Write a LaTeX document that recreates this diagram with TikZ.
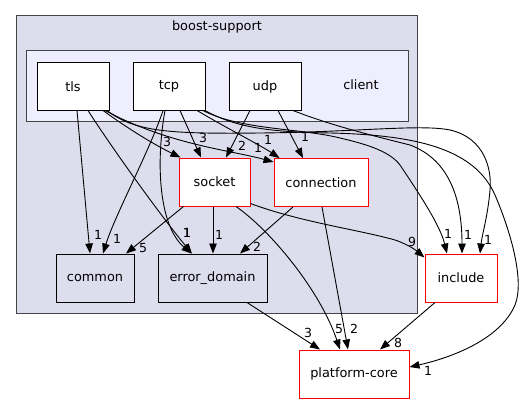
\documentclass[tikz,border=0pt]{standalone}
\usepackage{fontspec}
\setmainfont{DejaVu Sans}
\usetikzlibrary{arrows.meta}
\definecolor{clout}{HTML}{DDDDEE}
\definecolor{clin}{HTML}{EEEEFF}
\definecolor{clborder}{HTML}{444444}
\begin{document}
\begin{tikzpicture}[x=1pt,y=-1pt,
  font=\fontsize{12.9}{15}\selectfont,
  dirbox/.style={draw=black,fill=white,line width=1pt,minimum width=72pt,minimum height=47pt,inner sep=0pt},
  extbox/.style={draw=red,fill=white,line width=1pt,minimum height=48pt,inner sep=0pt},
  subbox/.style={draw=black,fill=clout,line width=1pt,minimum height=48pt,inner sep=0pt},
  dep/.style={line width=0.9pt,-{Triangle[length=10pt,width=7.5pt]}},
  lab/.style={inner sep=0pt,font=\fontsize{12.5}{14}\selectfont}]
\useasboundingbox (0,0) rectangle (527,404);
% clusters
\draw[fill=clout,draw=clborder,line width=1pt] (16,16) rectangle (417,313);
\node (tboost) at (217,27) {boost-support};
\draw[fill=clin,draw=clborder,line width=1pt] (26,51) rectangle (408,121);
\node (tclient) at (361,85) {client};
% nodes
\node[dirbox] (tls) at (73,86.5) {tls};
\node[dirbox] (tcp) at (169,86.5) {tcp};
\node[dirbox] (udp) at (265,86.5) {udp};
\node[extbox,minimum width=71pt] (socket) at (214.5,182) {socket};
\node[extbox,minimum width=94pt] (connection) at (321,182.5) {connection};
\node[subbox,minimum width=78pt] (common) at (95,278) {common};
\node[subbox,minimum width=109pt] (errd) at (212.5,278) {error\_domain};
\node[extbox,minimum width=72pt] (include) at (461,278) {include};
\node[extbox,minimum width=110pt] (pcore) at (354,374) {platform-core};
% edges
\draw[dep] ([xshift=4pt]tls.south) -- ([xshift=-5pt]common.north);
\draw[dep] ([xshift=-6pt]tcp.south) .. controls (150,150) and (115,215) .. ([xshift=8pt]common.north);
\draw[dep] ([xshift=15pt]tls.south) .. controls (110,145) and (160,215) .. ([xshift=-20.5pt]errd.north);
\draw[dep] ([xshift=-4pt]tcp.south) .. controls (156,160) and (158,225) .. ([xshift=-21pt]errd.north);
\draw[dep] ([xshift=30pt]tls.south) .. controls (130,130) and (155,145) .. ([xshift=-34pt]socket.north);
\draw[dep] ([xshift=11pt]tcp.south) -- ([xshift=-13.5pt]socket.north);
\draw[dep] ([xshift=-15pt]udp.south) -- ([xshift=11.5pt]socket.north);
\draw[dep] ([xshift=32pt]tls.south) .. controls (170,145) and (230,150) .. ([yshift=-4pt]connection.north west);
\draw[dep] ([xshift=28pt]tcp.south) .. controls (230,130) and (260,145) .. ([xshift=6pt]connection.north west);
\draw[dep] ([xshift=13pt]udp.south) -- ([xshift=-18pt]connection.north);
\draw[dep] ([xshift=34pt]tls.south) .. controls (135,132) and (170,134) .. (260,133)
   .. controls (360,132) and (420,124) .. (450,130)
   .. controls (485,138) and (492,170) .. (490,190)
   .. controls (488,215) and (482,235) .. ([xshift=19pt]include.north);
\draw[dep] ([xshift=36pt]tcp.south) .. controls (240,130) and (280,132) .. (330,133)
   .. controls (420,135) and (475,150) .. (495,195)
   .. controls (510,230) and (525,280) .. (515,305)
   .. controls (500,340) and (450,358) .. ([yshift=7pt]pcore.east);
\draw[dep] ([xshift=34pt]tcp.south) .. controls (240,130) and (300,128) .. (340,138)
   .. controls (370,145) and (390,152) .. (400,165)
   .. controls (420,195) and (440,225) .. ([xshift=-14pt]include.north);
\draw[dep] ([xshift=28pt]udp.south) .. controls (330,125) and (370,135) .. (410,145)
   .. controls (450,160) and (462,200) .. ([xshift=1pt]include.north);
\draw[dep] ([xshift=-31pt]socket.south) -- ([xshift=31pt]common.north);
\draw[dep] ([xshift=-1.5pt]socket.south) -- ([xshift=0.5pt]errd.north);
\draw[dep] ([xshift=-28pt]connection.south) -- ([xshift=27.5pt]errd.north);
\draw[dep] ([yshift=3pt]socket.south east) .. controls (300,222) and (360,230) .. (395,240)
   .. controls (410,245) and (418,252) .. ([yshift=-4pt]include.north west);
\draw[dep] ([xshift=21.5pt]socket.south) .. controls (270,230) and (320,290) .. ([xshift=-14pt]pcore.north);
\draw[dep] ([xshift=1pt]connection.south) -- ([xshift=-6pt]pcore.north);
\draw[dep] ([xshift=34.5pt]errd.south) -- ([xshift=-34pt]pcore.north);
\draw[dep] ([xshift=-26pt]include.south) -- ([xshift=26pt]pcore.north);
% labels
\node[lab] (l1) at (98,235) {1};
\node[lab] (l2) at (117,239) {1};
\node[lab] (l3) at (187,233) {1};
\node[lab] (l4) at (187,233) {1};
\node[lab] (l5) at (219,235) {1};
\node[lab] (l6) at (143,248) {5};
\node[lab] (l7) at (257,247) {2};
\node[lab] (l8) at (167,142) {3};
\node[lab] (l9) at (203,138) {3};
\node[lab] (l10) at (242,146) {2};
\node[lab] (l11) at (258,148) {1};
\node[lab] (l12) at (268,140) {1};
\node[lab] (l13) at (305,137) {1};
\node[lab] (l14) at (412,242) {9};
\node[lab] (l15) at (448,234) {1};
\node[lab] (l16) at (468,235) {1};
\node[lab] (l17) at (488,240) {1};
\node[lab] (l18) at (308,333) {3};
\node[lab] (l19) at (339,329) {5};
\node[lab] (l20) at (354,329) {2};
\node[lab] (l21) at (398,343) {8};
\node[lab] (l22) at (428,371) {1};
\end{tikzpicture}
\end{document}
